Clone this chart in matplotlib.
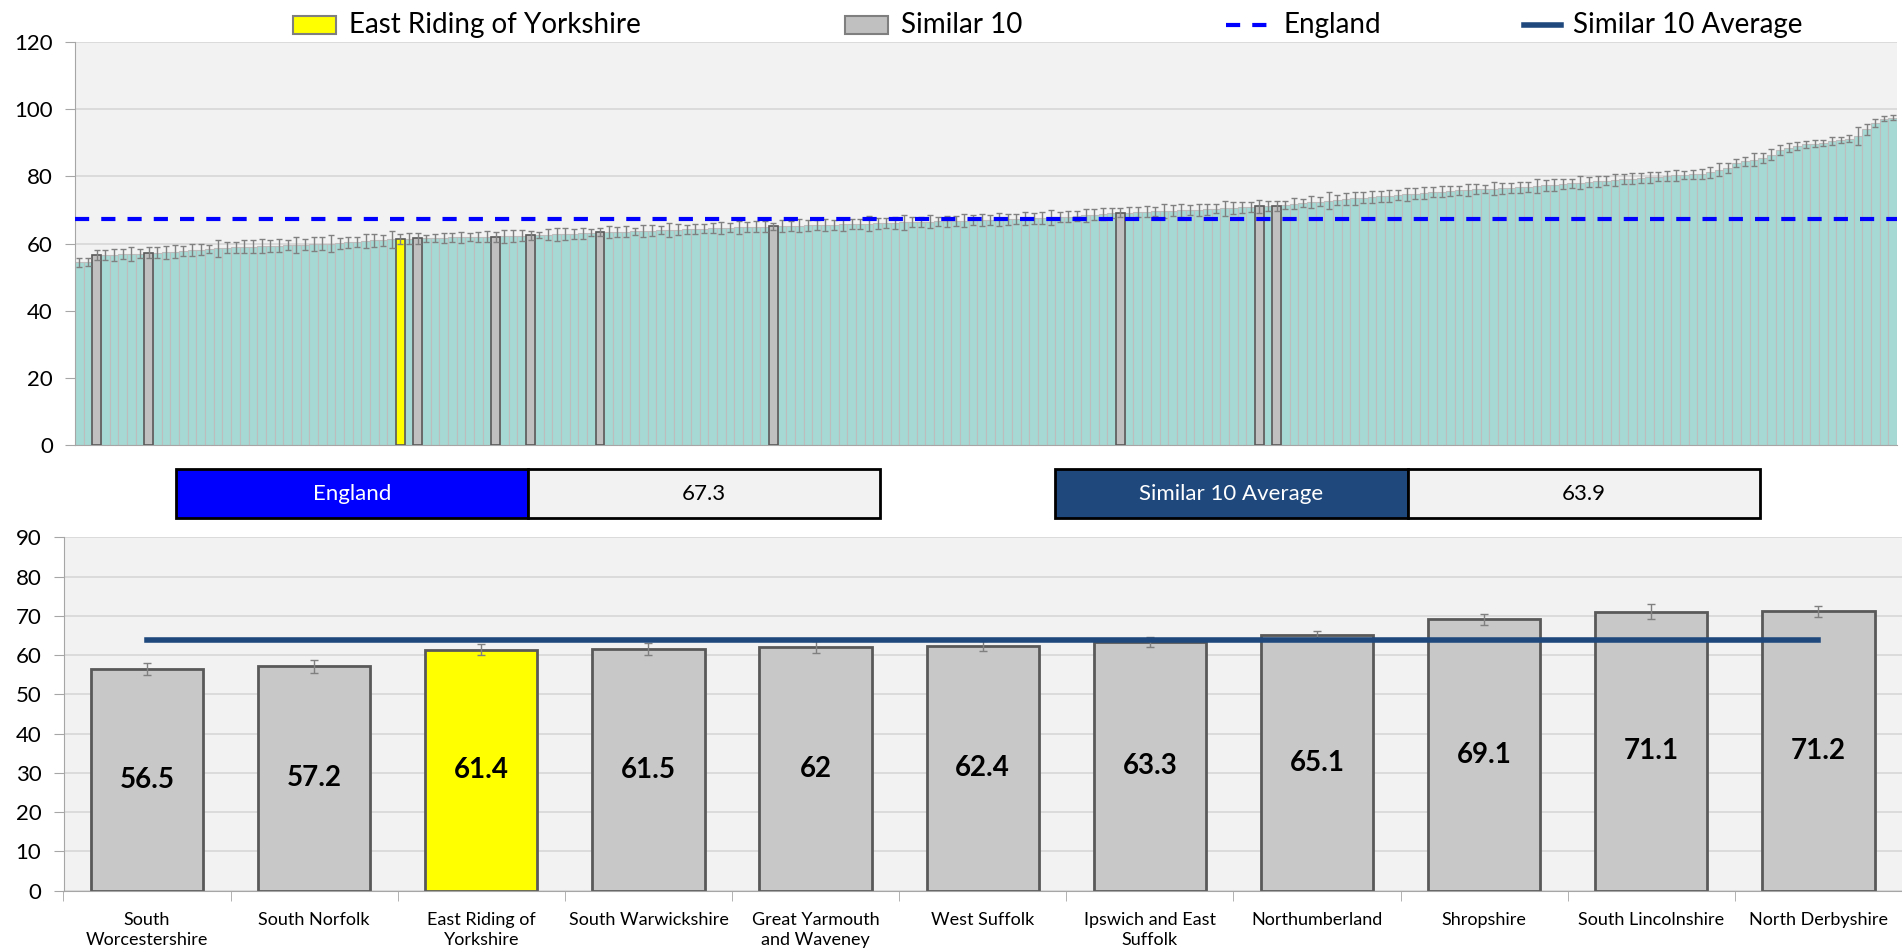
import matplotlib
matplotlib.use("Agg")
import matplotlib.pyplot as plt
from matplotlib.patches import Rectangle
from matplotlib.lines import Line2D
import numpy as np

# ======================================================
# DATA
# ======================================================

# all areas, sorted ascending (top chart)
all_values = [
    54.4, 54.6, 56.5, 56.6, 56.7, 56.8, 56.9, 57.0, 57.2, 57.3,
    57.4, 57.6, 57.8, 58.0, 58.2, 58.4, 58.6, 58.8, 58.9, 59.0,
    59.1, 59.2, 59.3, 59.4, 59.5, 59.6, 59.7, 59.8, 59.9, 60.0,
    60.1, 60.3, 60.5, 60.7, 60.9, 61.0, 61.2, 61.4, 61.4, 61.5,
    61.5, 61.6, 61.7, 61.8, 61.8, 61.9, 61.9, 62.0, 62.0, 62.1,
    62.2, 62.3, 62.4, 62.5, 62.6, 62.7, 62.8, 62.9, 63.0, 63.2,
    63.3, 63.4, 63.5, 63.5, 63.6, 63.7, 63.8, 63.9, 64.0, 64.1,
    64.2, 64.3, 64.4, 64.5, 64.6, 64.7, 64.8, 64.9, 65.0, 65.0,
    65.1, 65.2, 65.2, 65.3, 65.4, 65.5, 65.5, 65.6, 65.7, 65.8,
    65.8, 65.9, 66.0, 66.1, 66.2, 66.3, 66.4, 66.5, 66.5, 66.6,
    66.6, 66.7, 66.8, 66.9, 66.9, 67.0, 67.1, 67.2, 67.3, 67.4,
    67.5, 67.6, 67.8, 67.9, 68.0, 68.2, 68.4, 68.6, 68.8, 69.0,
    69.1, 69.2, 69.4, 69.5, 69.6, 69.7, 69.8, 69.9, 70.0, 70.1,
    70.2, 70.4, 70.5, 70.6, 70.8, 70.9, 71.1, 71.1, 71.2, 71.5,
    71.8, 72.0, 72.3, 72.5, 72.8, 73.0, 73.2, 73.4, 73.6, 73.8,
    74.0, 74.2, 74.4, 74.6, 74.8, 75.0, 75.2, 75.4, 75.6, 75.8,
    76.0, 76.1, 76.2, 76.3, 76.4, 76.5, 76.7, 76.9, 77.1, 77.3,
    77.5, 77.7, 77.9, 78.1, 78.3, 78.5, 78.7, 78.9, 79.1, 79.3,
    79.5, 79.7, 79.9, 80.1, 80.3, 80.5, 80.6, 80.8, 81.2, 82.0,
    82.5, 84.0, 84.5, 85.0, 85.5, 86.5, 87.8, 88.5, 89.0, 89.5,
    89.7, 90.0, 90.5, 90.8, 91.2, 92.0, 94.0, 96.0, 97.2, 97.5,
]

all_errors = [
    1.3, 1.2, 1.5, 1.6, 1.8, 1.5, 2.0, 1.3, 1.65, 1.7,
    1.9, 2.0, 1.4, 1.8, 1.6, 1.1, 2.5, 1.7, 1.6, 1.9,
    1.8, 2.1, 1.7, 1.9, 1.5, 2.3, 1.6, 2.0, 1.9, 2.6,
    1.6, 1.7, 1.5, 2.1, 1.9, 1.6, 2.4, 1.4, 1.6, 1.5,
    1.0, 1.2, 1.5, 1.3, 1.7, 1.2, 1.6, 1.7, 1.5, 1.9,
    1.8, 1.6, 1.3, 0.8, 1.7, 1.9, 1.8, 1.5, 1.6, 1.0,
    1.2, 1.8, 1.5, 1.7, 1.1, 1.8, 1.6, 1.2, 2.1, 1.7,
    1.4, 1.6, 1.3, 1.5, 1.8, 1.4, 1.9, 1.5, 1.7, 1.6,
    1.1, 1.7, 1.5, 1.9, 1.6, 1.4, 1.8, 1.5, 2.0, 1.6,
    1.5, 2.3, 1.7, 1.4, 1.8, 2.2, 1.6, 1.5, 1.9, 1.4,
    1.7, 1.6, 1.9, 1.5, 1.8, 1.4, 2.0, 1.7, 1.5, 1.9,
    1.6, 1.8, 2.2, 1.5, 1.7, 1.4, 1.9, 1.6, 1.8, 1.5,
    1.35, 1.8, 1.5, 1.7, 1.4, 2.1, 1.6, 1.9, 1.5, 1.8,
    1.7, 1.4, 2.3, 1.9, 1.6, 1.5, 1.95, 1.5, 1.4, 1.3,
    1.6, 1.2, 1.8, 1.4, 2.6, 1.5, 1.7, 1.9, 1.6, 1.8,
    1.5, 1.7, 1.4, 1.9, 1.6, 1.8, 1.5, 1.7, 1.6, 1.4,
    1.8, 1.5, 1.3, 1.9, 1.6, 1.4, 1.7, 1.5, 2.0, 1.6,
    1.8, 1.5, 1.4, 1.9, 1.6, 1.7, 1.3, 1.8, 1.5, 1.6,
    1.4, 1.7, 1.3, 1.5, 1.6, 1.2, 1.4, 1.5, 1.7, 1.9,
    1.6, 1.3, 1.4, 1.8, 1.5, 1.6, 1.4, 1.3, 1.2, 1.0,
    1.1, 0.9, 1.2, 1.0, 1.1, 2.6, 1.7, 1.2, 0.8, 0.7,
]

# positions of the similar 10 (+ East Riding) in the ranked list
similar_rank = [2, 8, 37, 39, 48, 52, 60, 80, 120, 136, 138]
highlight_rank = 37

# similar 10 comparison (bottom chart)
areas = [
    "South\nWorcestershire", "South Norfolk", "East Riding of\nYorkshire",
    "South Warwickshire", "Great Yarmouth\nand Waveney", "West Suffolk",
    "Ipswich and East\nSuffolk", "Northumberland", "Shropshire",
    "South Lincolnshire", "North Derbyshire",
]
area_values = [56.5, 57.2, 61.4, 61.5, 62, 62.4, 63.3, 65.1, 69.1, 71.1, 71.2]
area_errors = [1.5, 1.65, 1.4, 1.5, 1.5, 1.3, 1.2, 1.1, 1.35, 1.95, 1.4]
highlight_area = 2

england_value = 67.3
similar_avg = 63.9

# ======================================================
# STYLE
# ======================================================

W, H = 1902, 952
TEAL = "#A6D9D4"
GREY = "#C0C0C0"
YELLOW = "#FFFF00"
BLUE = "#0000FF"
NAVY = "#1F497D"
BG = "#F2F2F2"
GRID = "#D9D9D9"
AXIS = "#A6A6A6"
ENG_DASH = (0, (3.4, 2.9))

plt.rcParams["font.family"] = ["Lato", "DejaVu Sans"]

fig = plt.figure(figsize=(W / 100, H / 100), dpi=100)


def box(x0, y0, x1, y1):
    # pixel box (top-left origin) -> figure fraction rect
    return [x0 / W, 1 - y1 / H, (x1 - x0) / W, (y1 - y0) / H]


def fx(x):
    return x / W


def fy(y):
    return 1 - y / H


def style_axes(ax):
    ax.set_facecolor(BG)
    ax.set_axisbelow(True)
    ax.grid(axis="y", color=GRID, lw=1.3)
    for s in ["top", "right"]:
        ax.spines[s].set_visible(False)
    ax.spines["left"].set_color(AXIS)
    ax.spines["bottom"].set_color(AXIS)
    ax.tick_params(axis="y", colors=AXIS, labelcolor="black", labelsize=16,
                   length=7, pad=9)


# ======================================================
# TOP: ALL AREAS
# ======================================================

ax1 = fig.add_axes(box(75, 42, 1897, 445))
style_axes(ax1)

n = len(all_values)
idx = np.arange(n)
vals = np.array(all_values)

ax1.bar(idx, vals, width=1.0, color=TEAL, edgecolor="#BDBDBD", lw=0.8, zorder=2)

grey_rank = [r for r in similar_rank if r != highlight_rank]
ax1.bar(grey_rank, vals[grey_rank], width=1.0, color=GREY,
        edgecolor="#595959", lw=1.2, zorder=3)
ax1.bar([highlight_rank], [vals[highlight_rank]], width=1.0, color=YELLOW,
        edgecolor="#595959", lw=1.2, zorder=3)

ax1.errorbar(idx, vals, yerr=all_errors, fmt="none", ecolor="#808080",
             elinewidth=1, capsize=2.2, capthick=1, zorder=4)

ax1.axhline(england_value, color=BLUE, lw=3, ls=ENG_DASH, zorder=5)

ax1.set_xlim(-0.5, n - 0.5)
ax1.set_ylim(0, 120)
ax1.set_yticks(range(0, 121, 20))
ax1.tick_params(axis="x", bottom=False, labelbottom=False)

# legend (placed by hand to match the original spacing)
ly = 25
LEG_FS = 20
fig.add_artist(Rectangle((fx(293), fy(33.5)), 43 / W, 17 / H, transform=fig.transFigure,
                         fc=YELLOW, ec="#7F7F7F", lw=1.5))
fig.text(fx(349), fy(ly), "East Riding of Yorkshire", fontsize=LEG_FS, va="center")
fig.add_artist(Rectangle((fx(845), fy(33.5)), 43 / W, 17 / H, transform=fig.transFigure,
                         fc=GREY, ec="#7F7F7F", lw=1.5))
fig.text(fx(901), fy(ly), "Similar 10", fontsize=LEG_FS, va="center")
fig.add_artist(Line2D([fx(1226), fx(1268)], [fy(ly), fy(ly)], transform=fig.transFigure,
                      color=BLUE, lw=3, ls=ENG_DASH))
fig.text(fx(1284), fy(ly), "England", fontsize=LEG_FS, va="center")
fig.add_artist(Line2D([fx(1524), fx(1561)], [fy(ly), fy(ly)], transform=fig.transFigure,
                      color=NAVY, lw=4))
fig.text(fx(1573), fy(ly), "Similar 10 Average", fontsize=LEG_FS, va="center")

# ======================================================
# MIDDLE: SUMMARY BOXES
# ======================================================

def summary_box(x0, xm, x1, label, value, color):
    y0, y1 = 469, 518
    fig.add_artist(Rectangle((fx(x0), fy(y1)), (xm - x0) / W, (y1 - y0) / H,
                             transform=fig.transFigure, fc=color, ec="black", lw=2))
    fig.add_artist(Rectangle((fx(xm), fy(y1)), (x1 - xm) / W, (y1 - y0) / H,
                             transform=fig.transFigure, fc=BG, ec="black", lw=2))
    yc = fy((y0 + y1) / 2)
    fig.text(fx((x0 + xm) / 2), yc, label, color="white", fontsize=16,
             ha="center", va="center")
    fig.text(fx((xm + x1) / 2), yc, f"{value:g}", color="black", fontsize=16,
             ha="center", va="center")


summary_box(176, 528, 880, "England", england_value, BLUE)
summary_box(1055, 1408, 1760, "Similar 10 Average", similar_avg, NAVY)

# ======================================================
# BOTTOM: SIMILAR 10
# ======================================================

ax2 = fig.add_axes(box(63.5, 537.3, 1902, 890.7))
style_axes(ax2)

x = np.arange(len(areas))
bar_colors = [YELLOW if i == highlight_area else "#C8C8C8" for i in x]
ax2.bar(x, area_values, width=0.672, color=bar_colors, edgecolor="#595959",
        lw=2, zorder=2)
ax2.errorbar(x, area_values, yerr=area_errors, fmt="none", ecolor="#808080",
             elinewidth=1, capsize=2.7, capthick=1, zorder=3)
ax2.plot([x[0], x[-1]], [similar_avg, similar_avg], color=NAVY, lw=4, zorder=4)

for i, v in zip(x, area_values):
    ax2.text(i, v / 2, f"{v:g}", ha="center", va="center", fontsize=20,
             fontweight="bold", zorder=5)

ax2.set_xlim(-0.5, len(areas) - 0.5)
ax2.set_ylim(0, 90)
ax2.set_yticks(range(0, 91, 10))
ax2.set_xticks(x)
ax2.set_xticklabels(areas, fontsize=13, linespacing=1.35)
ax2.set_xticks(np.arange(-0.5, len(areas) - 0.5), minor=True)
ax2.tick_params(axis="x", which="major", length=0, pad=15)
ax2.tick_params(axis="x", which="minor", length=7, colors=AXIS)

fig.savefig("out.png", dpi=100)
